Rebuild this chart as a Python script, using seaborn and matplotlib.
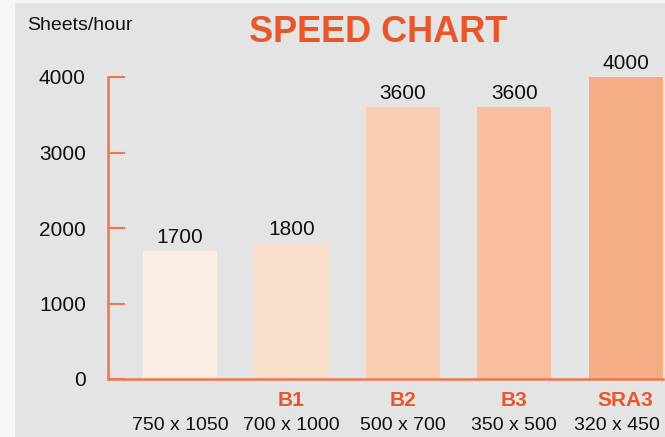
import matplotlib
matplotlib.use("Agg")
import matplotlib.pyplot as plt
import matplotlib.patches as mpatches
import matplotlib.transforms as mtrans
import seaborn as sns

# data
sizes = ["750 x 1050", "700 x 1000", "500 x 700", "350 x 500", "320 x 450"]
formats = ["", "B1", "B2", "B3", "SRA3"]
speeds = [1700, 1800, 3600, 3600, 4000]
bar_colors = ["#fdeee4", "#fadfcc", "#f9cfb3", "#f8be9d", "#f5ad84"]

ORANGE = "#e8562a"
SPINE = "#ec7652"

sns.set_theme(style="white")
plt.rcParams["font.family"] = ["Liberation Sans", "DejaVu Sans"]

fig = plt.figure(figsize=(6.65, 4.37), dpi=100)
fig.patch.set_facecolor("#f6f6f6")
# grey panel behind everything
fig.patches.append(mpatches.Rectangle((15 / 665, 0), 1, 1 - 3 / 437,
                                      transform=fig.transFigure,
                                      facecolor="#e3e4e3", edgecolor="none", zorder=-1))

ax = fig.add_axes([108 / 665, 1 - 379 / 437, 555 / 665, 302 / 437])
ax.set_facecolor("none")
ax.set_zorder(2)

sns.barplot(x=sizes, y=speeds, hue=sizes, palette=bar_colors, legend=False,
            width=0.667, saturation=1, linewidth=0, edgecolor="none", ax=ax)

ax.set_ylim(0, 4000)
ax.set_xlim(-0.647, 4.335)
ax.set_yticks([0, 1000, 2000, 3000, 4000])
ax.tick_params(axis="y", left=True, direction="in", length=12, width=1.5, color=SPINE,
               pad=16, labelsize=15, labelcolor="#111111")
ax.tick_params(axis="x", length=0, labelbottom=False)
ax.set_xlabel("")
ax.set_ylabel("")

for s in ["top", "right"]:
    ax.spines[s].set_visible(False)
for s in ["left", "bottom"]:
    ax.spines[s].set_color(SPINE)
    ax.spines[s].set_linewidth(1.8)

# values on top of bars
for i, v in enumerate(speeds):
    ax.text(i, v + 50, str(v), ha="center", va="bottom", fontsize=15, color="#111111")

# format names and sheet sizes under the axis
xt = ax.get_xaxis_transform()
for i, (f, s) in enumerate(zip(formats, sizes)):
    ax.text(i, -0.072, f, transform=xt, ha="center", va="center",
            fontsize=15, fontweight="bold", color=ORANGE)
    shift = -9 if i == len(sizes) - 1 else 0
    tr = xt + mtrans.ScaledTranslation(shift / 100, 0, fig.dpi_scale_trans)
    ax.text(i, -0.155, s, transform=tr, ha="center", va="center",
            fontsize=14, color="#111111")

fig.text(27 / 665, 1 - 26 / 437, "Sheets/hour", ha="left", va="center",
         fontsize=14, color="#111111")
fig.text(378 / 665, 1 - 33 / 437, "SPEED CHART", ha="center", va="center",
         fontsize=26, fontweight="bold", color=ORANGE)

fig.savefig("out.png", dpi=100)
